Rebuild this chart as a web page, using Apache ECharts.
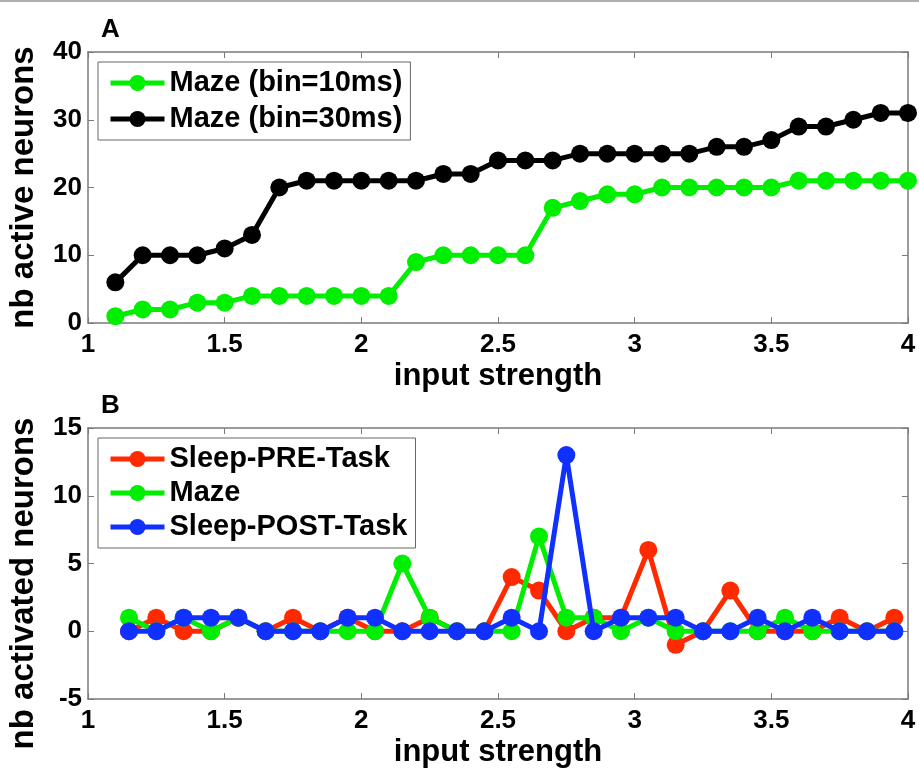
<!DOCTYPE html>
<html>
<head>
<meta charset="utf-8">
<script src="https://cdn.jsdelivr.net/npm/echarts@6/dist/echarts.min.js"></script>
<style>
html,body{margin:0;padding:0;background:#fff;}
#chart{width:919px;height:770px;box-sizing:border-box;border-top:2px solid #b0b0b0;}
</style>
</head>
<body>
<div id="chart"></div>
<script>
// Panel A data
var xA = [1.1,1.2,1.3,1.4,1.5,1.6,1.7,1.8,1.9,2.0,2.1,2.2,2.3,2.4,2.5,2.6,2.7,2.8,2.9,3.0,3.1,3.2,3.3,3.4,3.5,3.6,3.7,3.8,3.9,4.0];
var maze10 = [1,2,2,3,3,4,4,4,4,4,4,9,10,10,10,10,17,18,19,19,20,20,20,20,20,21,21,21,21,21];
var maze30 = [6,10,10,10,11,13,20,21,21,21,21,21,22,22,24,24,24,25,25,25,25,25,26,26,27,29,29,30,31,31];
// Panel B data
var xB = [1.15,1.25,1.35,1.45,1.55,1.65,1.75,1.85,1.95,2.05,2.15,2.25,2.35,2.45,2.55,2.65,2.75,2.85,2.95,3.05,3.15,3.25,3.35,3.45,3.55,3.65,3.75,3.85,3.95];
var sleepPre  = [0,1,0,0,1,0,1,0,1,0,0,1,0,0,4,3,0,1,1,6,-1,0,3,0,0,0,1,0,1];
var mazeB     = [1,0,1,0,1,0,0,0,0,0,5,1,0,0,0,7,1,1,0,1,0,0,0,0,1,0,0,0,0];
var sleepPost = [0,0,1,1,1,0,0,0,1,1,0,0,0,0,1,0,13,0,1,1,1,0,0,1,0,1,0,0,0];

function pairs(xs, ys){ return xs.map(function(x,i){ return [x, ys[i]]; }); }

var FONT = 'Liberation Sans, Arial, sans-serif';
var frame = '#7a7a7a';
var tickFont = {fontFamily: FONT, fontWeight: 'bold', fontSize: 26, color: '#000'};

function xAxisPair(gi){
  return [{
    type:'value', gridIndex: gi, min:1, max:4, interval:0.5,
    axisLine:{show:true, onZero:false, lineStyle:{color:frame, width:1.5}},
    axisTick:{show:true, inside:true, length:6, lineStyle:{color:frame}},
    axisLabel:Object.assign({margin:9, formatter:function(v){return String(v);}}, tickFont),
    splitLine:{show:false},
    name:'input strength', nameLocation:'middle', nameGap:38,
    nameTextStyle:{fontFamily:FONT, fontWeight:'bold', fontSize:31, color:'#000'}
  },{
    type:'value', gridIndex: gi, position:'top', min:1, max:4, interval:0.5,
    axisLine:{show:true, onZero:false, lineStyle:{color:frame, width:1.5}},
    axisTick:{show:true, inside:true, length:6, lineStyle:{color:frame}},
    axisLabel:{show:false}, splitLine:{show:false}
  }];
}
function yAxisPair(gi, mn, mx, itv, name, pad){
  return [{
    type:'value', gridIndex: gi, min:mn, max:mx, interval:itv,
    axisLine:{show:true, onZero:false, lineStyle:{color:frame, width:1.5}},
    axisTick:{show:true, inside:true, length:6, lineStyle:{color:frame}},
    axisLabel:Object.assign({margin:6}, tickFont),
    splitLine:{show:false},
    name:name, nameLocation:'middle', nameGap:48,
    nameTextStyle:{fontFamily:FONT, fontWeight:'bold', fontSize:33, color:'#000', padding:pad}
  },{
    type:'value', gridIndex: gi, position:'right', min:mn, max:mx, interval:itv,
    axisLine:{show:true, onZero:false, lineStyle:{color:frame, width:1.5}},
    axisTick:{show:true, inside:true, length:6, lineStyle:{color:frame}},
    axisLabel:{show:false}, splitLine:{show:false}
  }];
}

function lineSeries(name, color, xi, yi, data, z){
  return {
    name:name, type:'line', xAxisIndex:xi, yAxisIndex:yi, data:data,
    symbol:'circle', symbolSize:18, z:z,
    lineStyle:{color:color, width:5},
    itemStyle:{color:color},
    emphasis:{disabled:true}, animation:false
  };
}

var chart = echarts.init(document.getElementById('chart'));
var legendText = {fontFamily:FONT, fontWeight:'bold', fontSize:29, color:'#000', lineHeight:30};
var legendCommon = {
  orient:'vertical', left:98,
  borderColor:'#666', borderWidth:1, backgroundColor:'#fff',
  itemWidth:54, itemHeight:20, textStyle:legendText, selectedMode:false,
  lineStyle:{width:5}
};
chart.setOption({
  backgroundColor:'#fff',
  animation:false,
  title:[
    {text:'A', left:96, top:10, textStyle:{fontFamily:FONT, fontWeight:'bold', fontSize:26, color:'#000'}},
    {text:'B', left:96, top:386, textStyle:{fontFamily:FONT, fontWeight:'bold', fontSize:26, color:'#000'}}
  ],
  grid:[
    {left:88, right:11, top:50, height:271, containLabel:false, outerBoundsMode:'none'},
    {left:88, right:11, top:426, height:271, containLabel:false, outerBoundsMode:'none'}
  ],
  legend:[
    Object.assign({data:['Maze (bin=10ms)','Maze (bin=30ms)'], top:60, padding:[6,8,6,10], itemGap:6}, legendCommon),
    Object.assign({data:['Sleep-PRE-Task','Maze','Sleep-POST-Task'], top:436, padding:[6,8,6,10], itemGap:4}, legendCommon)
  ],
  xAxis: xAxisPair(0).concat(xAxisPair(1)),
  yAxis: yAxisPair(0,0,40,10,'nb active neurons',[0,0,0,0]).concat(yAxisPair(1,-5,15,5,'nb activated neurons',[0,40,0,0])),
  series:[
    lineSeries('Maze (bin=10ms)', '#00ee00', 0, 0, pairs(xA, maze10), 2),
    lineSeries('Maze (bin=30ms)', '#000000', 0, 0, pairs(xA, maze30), 3),
    lineSeries('Sleep-PRE-Task', '#ff2a00', 2, 2, pairs(xB, sleepPre), 2),
    lineSeries('Maze', '#00ee00', 2, 2, pairs(xB, mazeB), 3),
    lineSeries('Sleep-POST-Task', '#1030ff', 2, 2, pairs(xB, sleepPost), 4)
  ]
});
</script>
</body>
</html>
